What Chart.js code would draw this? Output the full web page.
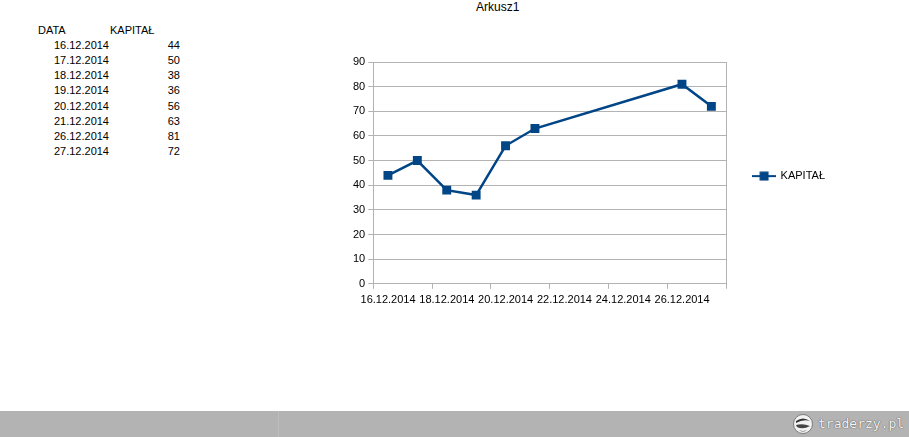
<!DOCTYPE html>
<html>
<head>
<meta charset="utf-8">
<script src="https://cdn.jsdelivr.net/npm/chart.js@4/dist/chart.umd.min.js"></script>
<style>
  html, body { margin: 0; padding: 0; background: #fff; }
  body { width: 909px; height: 437px; position: relative; overflow: hidden; font-family: "Liberation Sans", Arial, sans-serif; font-size: 11px; color: #000; }
  #title { position: absolute; left: 476px; top: 0px; font-size: 12px; line-height: 14px; }
  .cell { position: absolute; line-height: 14px; white-space: nowrap; }
  #chartWrap { position: absolute; left: 0; top: 0; width: 909px; height: 400px; }
  #footer { position: absolute; left: 0; top: 411px; width: 909px; height: 26px; background: #b3b3b3; }
  #footer .sep { position: absolute; left: 278px; top: 0; width: 1px; height: 26px; background: #bdbdbd; }
  #logoText { position: absolute; left: 818px; top: 5px; font-family: "DejaVu Sans Mono", monospace; font-size: 13px; line-height: 16px; color: #f4f4f4; text-shadow: 0 0 1px #555, 0 0 1px #555; }
  #logoIcon { position: absolute; left: 793px; top: 3px; width: 20px; height: 20px; }
</style>
</head>
<body>
<div id="title">Arkusz1</div>
<div id="table"></div>
<div id="chartWrap"><canvas id="c" width="909" height="400"></canvas></div>
<div id="footer">
  <div class="sep"></div>
  <svg id="logoIcon" viewBox="0 0 20 20">
    <circle cx="10" cy="10" r="9.5" fill="#f2f2f2" stroke="#666" stroke-width="0.8"/>
    <path d="M3 7 Q10 2 17 7 Q10 5 3 9 Z" fill="#333"/>
    <path d="M3 11 Q10 9 17 12 Q10 16 4 13 Z" fill="#444"/>
    <path d="M6 16 Q10 18 14 16 Q10 19 6 16 Z" fill="#555"/>
  </svg>
  <div id="logoText">traderzy.pl</div>
</div>
<script>
// ---- data ----
const headers = ['DATA', 'KAPITAŁ'];
const dates = ['16.12.2014', '17.12.2014', '18.12.2014', '19.12.2014', '20.12.2014', '21.12.2014', '26.12.2014', '27.12.2014'];
const kapital = [44, 50, 38, 36, 56, 63, 81, 72];
const xTickLabels = ['16.12.2014', '18.12.2014', '20.12.2014', '22.12.2014', '24.12.2014', '26.12.2014'];
const yTicks = [0, 10, 20, 30, 40, 50, 60, 70, 80, 90];
const seriesName = 'KAPITAŁ';

// ---- spreadsheet table ----
const table = document.getElementById('table');
function addCell(text, left, top, align) {
  const d = document.createElement('div');
  d.className = 'cell';
  d.textContent = text;
  d.style.top = top + 'px';
  if (align === 'right') { d.style.right = (909 - left) + 'px'; d.style.textAlign = 'right'; }
  else d.style.left = left + 'px';
  table.appendChild(d);
}
addCell(headers[0], 38, 23, 'left');
addCell(headers[1], 110, 23, 'left');
dates.forEach((d, i) => {
  const top = 37.5 + i * 15.25;
  addCell(d, 109, top, 'right');
  addCell(String(kapital[i]), 180, top, 'right');
});

// ---- chart ----
function toDay(s) {
  const [d, m, y] = s.split('.').map(Number);
  return Date.UTC(y, m - 1, d) / 864e5;
}
const points = dates.map((d, i) => ({ x: toDay(d), y: kapital[i] }));
const tickPos = xTickLabels.map(l => toDay(l) - 0.5);
tickPos.push(toDay(xTickLabels[xTickLabels.length - 1]) + 1.5);
const xMin = tickPos[0], xMax = tickPos[tickPos.length - 1];

const lineColor = '#004586';
const gridColor = '#b3b3b3';
const font = { family: '"Liberation Sans", Arial, sans-serif', size: 11 };

// legend symbol: line with square marker
const sym = document.createElement('canvas');
sym.width = 24; sym.height = 10;
(function () {
  const g = sym.getContext('2d');
  g.strokeStyle = lineColor; g.lineWidth = 2;
  g.beginPath(); g.moveTo(0, 5); g.lineTo(24, 5); g.stroke();
  g.fillStyle = lineColor; g.fillRect(7.5, 0.5, 9, 9);
})();

new Chart(document.getElementById('c'), {
  type: 'line',
  data: {
    datasets: [{
      label: seriesName,
      data: points,
      borderColor: lineColor,
      backgroundColor: lineColor,
      borderWidth: 2.5,
      pointStyle: 'rect',
      pointRadius: 6.3,
      pointHoverRadius: 6.3,
      pointBorderWidth: 0,
      tension: 0
    }]
  },
  options: {
    responsive: false,
    animation: false,
    layout: { padding: { left: 350, top: 62, right: 74, bottom: 88 } },
    plugins: {
      tooltip: { enabled: false },
      legend: {
        position: 'right',
        align: 'center',
        fullSize: false,
        title: { display: true, text: '', font: { size: 1 }, padding: { top: 5.2, bottom: 0 } },
        labels: {
          usePointStyle: true,
          pointStyleWidth: 22,
          padding: 27,
          color: '#000',
          font: font,
          generateLabels: (chart) => {
            const items = Chart.defaults.plugins.legend.labels.generateLabels(chart);
            items.forEach(it => { it.pointStyle = sym; });
            return items;
          }
        }
      }
    },
    scales: {
      x: {
        type: 'linear',
        min: xMin,
        max: xMax,
        afterBuildTicks: (scale) => { scale.ticks = tickPos.map(v => ({ value: v })); },
        ticks: {
          color: '#000',
          font: font,
          padding: 5,
          maxRotation: 0,
          autoSkip: false,
          labelOffset: 14.8,
          callback: (v, i) => xTickLabels[i] || ''
        },
        grid: {
          drawOnChartArea: true,
          color: (ctx) => (ctx.index === tickPos.length - 1 ? gridColor : 'rgba(0,0,0,0)'),
          tickColor: gridColor,
          tickLength: 5,
          lineWidth: 1
        },
        border: { display: true, color: gridColor, width: 1 }
      },
      y: {
        min: yTicks[0],
        max: yTicks[yTicks.length - 1],
        afterBuildTicks: (scale) => { scale.ticks = yTicks.map(v => ({ value: v })); },
        ticks: { color: '#000', font: font, padding: 3 },
        grid: { color: gridColor, tickColor: gridColor, tickLength: 5, lineWidth: 1 },
        border: { display: true, color: gridColor, width: 1 }
      }
    }
  }
});
</script>
</body>
</html>
